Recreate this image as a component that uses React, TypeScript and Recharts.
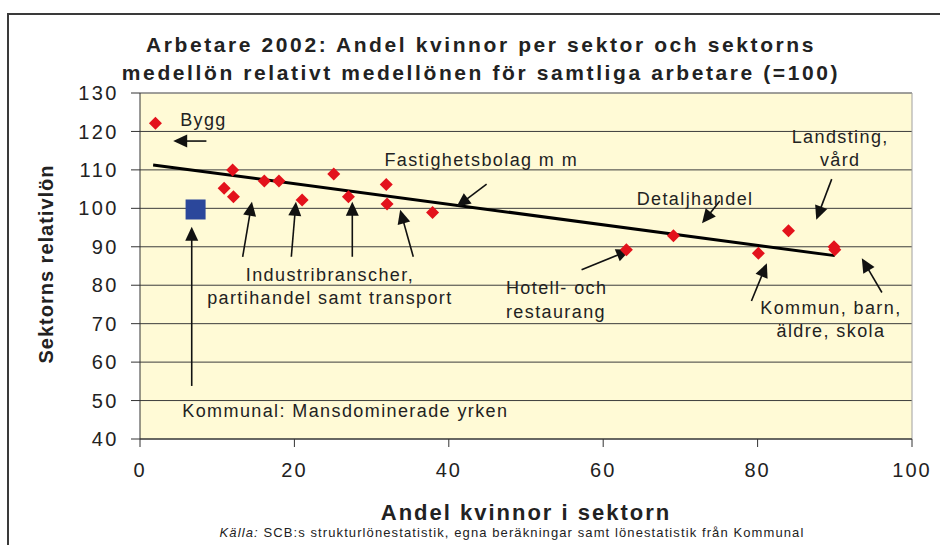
import React from "react"
import {
  ScatterChart,
  Scatter,
  XAxis,
  YAxis,
  CartesianGrid,
  ReferenceLine,
  ReferenceDot,
} from "recharts"

// andel kvinnor (%) och relativlön per sektor
const sectorShare = [2, 12, 10.9, 12.1, 16.1, 18, 21, 25.1, 27, 31.9, 32, 37.9, 63, 69.1, 80.1, 84, 89.9, 90]
const sectorWage = [122.1, 110, 105.2, 103, 107.1, 107.1, 102.2, 108.9, 103, 106.2, 101.1, 98.9, 89.2, 92.9, 88.3, 94.2, 90, 89.2]

// Kommunal: mansdominerade yrken
const kommunalShare = [7.2]
const kommunalWage = [99.7]

// trendlinje
const trendX = [1.7, 90]
const trendY = [111.3, 87.7]

const xTicks = [0, 20, 40, 60, 80, 100]
const yTicks = [40, 50, 60, 70, 80, 90, 100, 110, 120, 130]

// pilar: svans -> spets
const arrowFromX = [8.6, 6.7, 13.3, 19.6, 27.5, 35.4, 44.9, 75.1, 89.6, 57.2, 79.2, 96.1]
const arrowFromY = [117.5, 53.8, 87.4, 87.4, 87.4, 87.4, 106.3, 101.9, 107.6, 84.0, 75.9, 78.1]
const arrowToX = [4.3, 6.7, 14.5, 20.2, 27.5, 33.7, 41.0, 72.8, 87.6, 63.5, 81.2, 93.5]
const arrowToY = [117.5, 95.2, 101.7, 101.7, 101.7, 99.6, 100.4, 96.1, 97.0, 89.2, 85.7, 87.0]

// etiketter
const labelText = [
  "Bygg",
  "Fastighetsbolag m m",
  "Landsting,",
  "vård",
  "Detaljhandel",
  "Industribranscher,",
  "partihandel samt transport",
  "Kommunal: Mansdominerade yrken",
  "Hotell- och",
  "restaurang",
  "Kommun, barn,",
  "äldre, skola",
]
const labelX = [5.2, 44.2, 90.7, 90.7, 71.9, 24.6, 24.6, 26.6, 47.4, 47.4, 89.5, 89.5]
const labelY = [123.0, 112.6, 118.6, 112.6, 102.4, 82.7, 76.6, 47.4, 79.4, 73.1, 74.2, 68.1]
const labelAnchor = ["start", "middle", "middle", "middle", "middle", "middle", "middle", "middle", "start", "start", "middle", "middle"]

const sectors = sectorShare.map((x, i) => ({ x, y: sectorWage[i] }))
const kommunal = kommunalShare.map((x, i) => ({ x, y: kommunalWage[i] }))

const font = '"Liberation Sans", Arial, sans-serif'
const ink = "#222"

const Diamond = (p: any) => {
  const { cx, cy } = p
  const r = 6.5
  return (
    <polygon
      points={`${cx},${cy - r} ${cx + r},${cy} ${cx},${cy + r} ${cx - r},${cy}`}
      fill="#E3121C"
    />
  )
}

const Square = (p: any) => {
  const { cx, cy } = p
  return <rect x={cx - 10} y={cy - 10} width={20} height={20} fill="#2B479B" />
}

const Arrow = (p: any) => {
  const { x1, y1, x2, y2 } = p
  const dx = x2 - x1
  const dy = y2 - y1
  const len = Math.hypot(dx, dy) || 1
  const ux = dx / len
  const uy = dy / len
  const head = 14
  const half = 6.5
  const bx = x2 - ux * head
  const by = y2 - uy * head
  return (
    <g>
      <line x1={x1} y1={y1} x2={bx + ux * 2} y2={by + uy * 2} stroke="#111" strokeWidth={1.6} />
      <polygon
        points={`${x2},${y2} ${bx - uy * half},${by + ux * half} ${bx + uy * half},${by - ux * half}`}
        fill="#111"
      />
    </g>
  )
}

const makeLabel = (i: number) => (p: any) => (
  <text
    x={p.cx}
    y={p.cy}
    textAnchor={labelAnchor[i] as any}
    dominantBaseline="central"
    fontFamily={font}
    fontSize={18}
    letterSpacing={1.4}
    fill={ink}
  >
    {labelText[i]}
  </text>
)

const YTitle = () => (
  <text
    transform="translate(46,264) rotate(-90)"
    textAnchor="middle"
    dominantBaseline="central"
    fontFamily={font}
    fontSize={20}
    fontWeight="bold"
    letterSpacing={1}
    fill={ink}
  >
    Sektorns relativlön
  </text>
)

export default function App() {
  return (
    <div
      style={{
        position: "absolute",
        left: 0,
        top: 0,
        width: 940,
        height: 545,
        overflow: "hidden",
        background: "#fff",
        fontFamily: font,
      }}
    >
      <div
        style={{
          position: "absolute",
          left: 7,
          top: 13,
          width: 1000,
          height: 600,
          borderLeft: "2px solid #3a3a3a",
          borderTop: "2px solid #3a3a3a",
        }}
      />
      <div
        style={{
          position: "absolute",
          left: 0,
          top: 31,
          width: 962,
          textAlign: "center",
          fontSize: 21,
          fontWeight: "bold",
          letterSpacing: 2.6,
          lineHeight: "28px",
          color: ink,
        }}
      >
        Arbetare 2002: Andel kvinnor per sektor och sektorns
        <br />
        medellön relativt medellönen för samtliga arbetare (=100)
      </div>
      <div style={{ position: "absolute", left: 0, top: 0 }}>
        <ScatterChart width={940} height={545} margin={{ top: 93, right: 28, bottom: 0, left: 0 }}>
          <CartesianGrid vertical={false} stroke="#3c3c3c" fill="#FFFAD6" fillOpacity={1} />
          <XAxis
            type="number"
            dataKey="x"
            domain={[0, 100]}
            ticks={xTicks}
            height={106}
            stroke="#333"
            tickSize={8}
            tickMargin={16}
            tick={{ fontSize: 20, fill: ink, fontFamily: font, letterSpacing: 2 }}
            label={{
              value: "Andel kvinnor i sektorn",
              position: "insideBottom",
              offset: 25,
              style: { fontSize: 22, fontWeight: "bold", fill: ink, fontFamily: font, letterSpacing: 2 },
            }}
          />
          <YAxis
            type="number"
            dataKey="y"
            domain={[40, 130]}
            ticks={yTicks}
            width={140}
            stroke="#333"
            tickSize={9}
            tickMargin={12}
            tick={{ fontSize: 20, fill: ink, fontFamily: font, letterSpacing: 2.5 }}
            label={{ content: YTitle }}
          />
          <ReferenceLine y={130} stroke="#a0a0a0" />
          <ReferenceLine x={100} stroke="#a0a0a0" />
          <ReferenceLine
            segment={[
              { x: trendX[0], y: trendY[0] },
              { x: trendX[1], y: trendY[1] },
            ]}
            stroke="#000"
            strokeWidth={3}
          />
          <Scatter data={sectors} shape={Diamond} isAnimationActive={false} />
          <Scatter data={kommunal} shape={Square} isAnimationActive={false} />
          {arrowFromX.map((fx, i) => (
            <ReferenceLine
              key={"a" + i}
              segment={[
                { x: fx, y: arrowFromY[i] },
                { x: arrowToX[i], y: arrowToY[i] },
              ]}
              shape={Arrow}
            />
          ))}
          {labelText.map((_, i) => (
            <ReferenceDot key={"l" + i} x={labelX[i]} y={labelY[i]} r={0} shape={makeLabel(i)} />
          ))}
        </ScatterChart>
      </div>
      <div
        style={{
          position: "absolute",
          left: 0,
          top: 525,
          width: 1024,
          textAlign: "center",
          fontSize: 13,
          letterSpacing: 1.1,
          color: ink,
        }}
      >
        <i>Källa:</i> SCB:s strukturlönestatistik, egna beräkningar samt lönestatistik från Kommunal
      </div>
    </div>
  )
}
